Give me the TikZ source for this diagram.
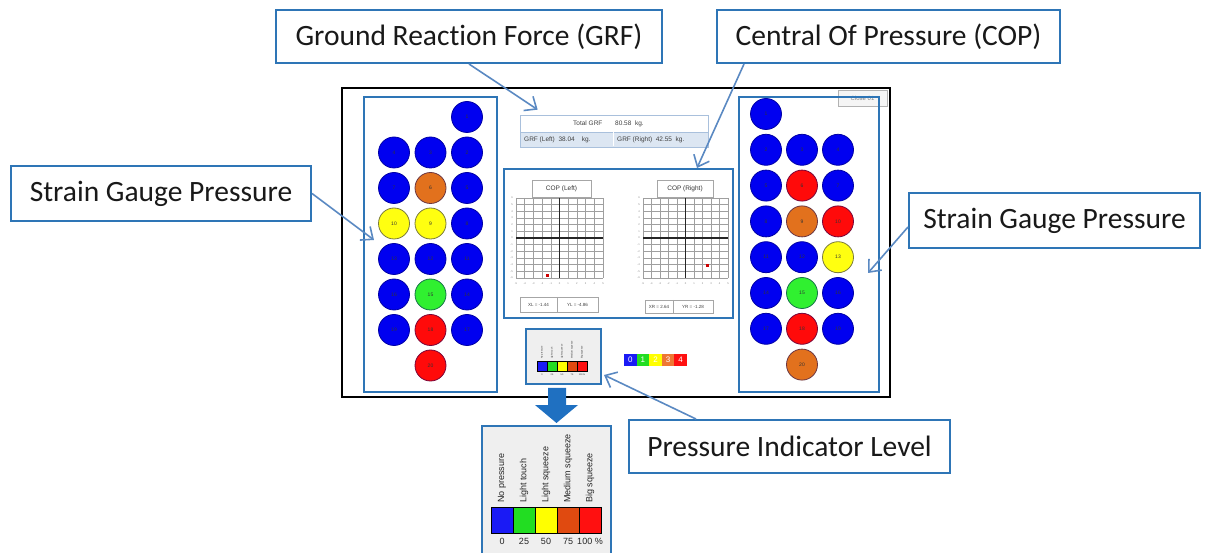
\documentclass[tikz,border=0pt]{standalone}
\usepackage{fontspec}
\setmainfont{Carlito}[Ligatures=NoCommon]
\newfontfamily\arialf{Liberation Sans}
\usetikzlibrary{arrows.meta,calc}
\definecolor{boxblue}{HTML}{2E75B6}
\definecolor{arrblue}{HTML}{5A89C2}
\definecolor{gblue}{HTML}{0000F0}
\definecolor{gorange}{HTML}{E2711D}
\definecolor{gyellow}{HTML}{FFFF10}
\definecolor{ggreen}{HTML}{30F030}
\definecolor{gred}{HTML}{FF0A0A}
\definecolor{tabfill}{HTML}{DCE6F2}
\definecolor{tabline}{HTML}{A9C0DC}
\definecolor{bigarrow}{HTML}{1F70C1}
\definecolor{legbg}{HTML}{EFEFEF}
\definecolor{lblue}{HTML}{1A1AF5}
\definecolor{lgreen}{HTML}{22DD22}
\definecolor{lyellow}{HTML}{FFFF00}
\definecolor{lorange}{HTML}{E04A10}
\definecolor{lred}{HTML}{FF1010}
\definecolor{sorange}{HTML}{EE7733}
\begin{document}
\begin{tikzpicture}[x=1pt,y=-1pt,
  callbox/.style={draw=boxblue, line width=2pt, fill=white, inner sep=0pt,
    font=\fontsize{29.5}{34}\selectfont, text=black!90},
  callarrow/.style={draw=arrblue, line width=1.6pt,
    -{Straight Barb[length=10pt,width=17pt,line width=1.6pt]}},
  panel/.style={draw=boxblue, line width=2pt, inner sep=0pt},
  gauge/.style={circle, minimum size=31pt, inner sep=0pt, draw=#1!60!black!80!blue,
    line width=0.8pt, fill=#1, font=\arialf\fontsize{5}{6}\selectfont, text=black!80},
  gridline/.style={draw=gray!75, line width=0.5pt},
  axisline/.style={draw=black!85, line width=1.2pt},
  tick/.style={font=\arialf\fontsize{2.6}{3}\selectfont, text=gray, inner sep=0pt},
  smalltxt/.style={font=\arialf\fontsize{6.5}{8}\selectfont, text=black!75, inner sep=0pt},
  valtxt/.style={font=\arialf\fontsize{4.5}{5}\selectfont, text=black!75, inner sep=0pt},
  cell/.style={draw=black, line width=0.8pt, minimum width=22pt, minimum height=26pt, inner sep=0pt},
  scell/.style={draw=black, line width=0.4pt, minimum width=10pt, minimum height=10pt, inner sep=0pt},
  legtxt/.style={font=\arialf\fontsize{9}{10}\selectfont, text=black!85, inner sep=0pt},
  slegtxt/.style={font=\arialf\fontsize{2.3}{3}\selectfont, text=black!85, inner sep=0pt},
  ncell/.style={minimum width=12.6pt, minimum height=12pt, inner sep=0pt,
    font=\arialf\fontsize{8}{9}\selectfont, text=white}
]
\useasboundingbox (0,0) rectangle (1208,553);

% ---------- screen ----------
\node[draw=gray!60, fill=gray!8, line width=0.6pt, minimum width=49pt, minimum height=16pt,
  inner sep=0pt, font=\arialf\fontsize{6}{7}\selectfont, text=gray] (closebtn) at (862.5,98) {Close 01};
\node[draw=black, line width=2.5pt, minimum width=548pt, minimum height=309pt, inner sep=0pt] (screen) at (616,242.5) {};

% ---------- side panels ----------
\node[panel, minimum width=133pt, minimum height=295pt] (lpanel) at (430.5,244.5) {};
\node[panel, minimum width=140pt, minimum height=295pt] (rpanel) at (809,244.5) {};

% left foot gauges
\foreach \n/\x/\y/\c in {1/467/117/gblue,
  4/394/152.5/gblue, 3/430.5/152.5/gblue, 2/467/152.5/gblue,
  7/394/188/gblue, 6/430.5/188/gorange, 5/467/188/gblue,
  10/394/223.5/gyellow, 9/430.5/223.5/gyellow, 8/467/223.5/gblue,
  13/394/259/gblue, 12/430.5/259/gblue, 11/467/259/gblue,
  16/394/294.5/gblue, 15/430.5/294.5/ggreen, 14/467/294.5/gblue,
  19/394/330/gblue, 18/430.5/330/gred, 17/467/330/gblue,
  20/430.5/365.5/gred}
  \node[gauge=\c] (L\n) at (\x,\y) {\n};

% right foot gauges
\foreach \n/\x/\y/\c in {1/766/114/gblue,
  2/766/149.8/gblue, 3/802/149.8/gblue, 4/838/149.8/gblue,
  5/766/185.6/gblue, 6/802/185.6/gred, 7/838/185.6/gblue,
  8/766/221.4/gblue, 9/802/221.4/gorange, 10/838/221.4/gred,
  11/766/257.2/gblue, 12/802/257.2/gblue, 13/838/257.2/gyellow,
  14/766/293/gblue, 15/802/293/ggreen, 16/838/293/gblue,
  17/766/328.8/gblue, 18/802/328.8/gred, 19/838/328.8/gblue,
  20/802/364.6/gorange}
  \node[gauge=\c] (R\n) at (\x,\y) {\n};

% ---------- GRF table ----------
\node[draw=tabline, line width=0.7pt, minimum width=188pt, minimum height=32pt, inner sep=0pt] (grftab) at (614,131) {};
\fill[tabfill] (520,132) rectangle (708,147);
\draw[tabline, line width=0.7pt] (520,115) rectangle (708,147);
\draw[tabline, line width=0.7pt] (520,132) -- (708,132);
\draw[white, line width=1pt] (613,132.5) -- (613,146.5);
\node[smalltxt, anchor=west] (totgrf) at (573,123.5) {Total GRF};
\node[smalltxt, anchor=west] (totval) at (615,123.5) {80.58\ \ kg.};
\node[smalltxt, anchor=west] (lgrf) at (524,140) {GRF (Left)\ \ 38.04\ \ \ \ kg.};
\node[smalltxt, anchor=west] (rgrf) at (617,140) {GRF (Right)\ \ 42.55\ \ kg.};

% ---------- COP panel ----------
\node[panel, minimum width=229pt, minimum height=149pt] (copbox) at (618.5,243.5) {};
\node[draw=gray!70, line width=0.6pt, minimum width=59pt, minimum height=17pt, inner sep=0pt,
  font=\arialf\fontsize{6.5}{8}\selectfont, text=black!80] (copl) at (561.5,188.5) {COP (Left)};
\node[draw=gray!70, line width=0.6pt, minimum width=56pt, minimum height=17pt, inner sep=0pt,
  font=\arialf\fontsize{6.5}{8}\selectfont, text=black!80] (copr) at (685,188.5) {COP (Right)};

% left grid
\foreach \i in {0,...,10} {
  \draw[gridline] ({516+8.7*\i},198) -- ({516+8.7*\i},278);
  \pgfmathtruncatemacro{\lab}{\i-5}
  \node[tick] at ({516+8.7*\i},283.5) {\lab};
}
\foreach \j in {0,...,12} {
  \draw[gridline] (516,{198+80/12*\j}) -- (603,{198+80/12*\j});
  \pgfmathtruncatemacro{\lab}{6-\j}
  \node[tick, anchor=east] at (513,{198+80/12*\j}) {\lab};
}
\draw[axisline] (559.5,198) -- (559.5,278);
\draw[axisline] (516,238) -- (603,238);
\fill[red!80!black] (545.5,274.5) rectangle (548.5,277.5);

% right grid
\foreach \i in {0,...,10} {
  \draw[gridline] ({643+8.5*\i},198) -- ({643+8.5*\i},278);
  \pgfmathtruncatemacro{\lab}{\i-5}
  \node[tick] at ({643+8.5*\i},283.5) {\lab};
}
\foreach \j in {0,...,12} {
  \draw[gridline] (643,{198+80/12*\j}) -- (728,{198+80/12*\j});
  \pgfmathtruncatemacro{\lab}{6-\j}
  \node[tick, anchor=east] at (640,{198+80/12*\j}) {\lab};
}
\draw[axisline] (685.5,198) -- (685.5,278);
\draw[axisline] (643,238) -- (728,238);
\fill[red!80!black] (705.5,264.5) rectangle (708.5,267.5);

% value boxes
\draw[gray!70, line width=0.6pt] (520,297) rectangle (598,312) (557,297) -- (557,312);
\node[valtxt] (xl) at (538.5,304.5) {XL = -1.44};
\node[valtxt] (yl) at (577.5,304.5) {YL = -4.86};
\draw[gray!70, line width=0.6pt] (645,300) rectangle (713,313) (673,300) -- (673,313);
\node[valtxt] (xr) at (659,306.5) {XR = 2.64};
\node[valtxt] (yr) at (693,306.5) {YR = -1.28};

% ---------- small legend ----------
\node[panel, fill=legbg, minimum width=75pt, minimum height=55pt] (smallleg) at (563.5,356.5) {};
\foreach \k/\c/\t/\v in {0/lblue/No pressure/0, 1/lgreen/Light touch/25, 2/lyellow/Light squeeze/50,
  3/lorange/Medium squeeze/75, 4/lred/Big squeeze/100\,\%} {
  \node[scell, fill=\c] (sc\k) at ({542+10*\k},366) {};
  \node[slegtxt, rotate=90, anchor=west] at ({542+10*\k},359) {\t};
  \node[slegtxt] at ({542+10*\k},375) {\v};
}

% number strip
\foreach \k/\c in {0/lblue, 1/lgreen, 2/lyellow, 3/sorange, 4/lred}
  \node[ncell, fill=\c] (nc\k) at ({630.3+12.6*\k},360) {\k};

% big down arrow
\fill[bigarrow] (548,388) -- (566,388) -- (566,405) -- (578,405) -- (556.5,423)
  -- (535,405) -- (548,405) -- cycle;

% ---------- big legend ----------
\node[panel, fill=legbg, minimum width=129pt, minimum height=132pt] (bigleg) at (546.5,492) {};
\foreach \k/\c/\t/\v in {0/lblue/No pressure/0, 1/lgreen/Light touch/25, 2/lyellow/Light squeeze/50,
  3/lorange/Medium squeeze/75, 4/lred/Big squeeze/100 \%} {
  \node[cell, fill=\c] (bc\k) at ({502+22*\k},520) {};
  \node[legtxt, rotate=90, anchor=west] at ({502+22*\k},503) {\t};
  \node[legtxt] at ({502+22*\k},541.5) {\v};
}

% ---------- callouts ----------
\node[callbox, minimum width=386pt, minimum height=53pt] (grfc) at (469,36.5) {Ground Reaction Force (GRF)};
\node[callbox, minimum width=343pt, minimum height=53pt] (copc) at (888.5,36.5) {Central Of Pressure (COP)};
\node[callbox, minimum width=300pt, minimum height=55pt] (sgl) at (161,193.5) {Strain Gauge Pressure};
\node[callbox, minimum width=291pt, minimum height=55pt] (sgr) at (1054.5,220.5) {Strain Gauge Pressure};
\node[callbox, minimum width=321pt, minimum height=53pt] (pil) at (789.5,446.5) {Pressure Indicator Level};

\draw[callarrow] (grfc.south) -- ([xshift=18pt,yshift=5pt]grftab.north west);
\draw[callarrow] ([xshift=28pt]copc.south west) -- ([xshift=78.5pt]copbox.north);
\draw[callarrow] (sgl.east) -- ([xshift=11pt,yshift=4.5pt]lpanel.west);
\draw[callarrow] ([yshift=-6.5pt]sgr.west) -- ([xshift=-12pt,yshift=-28.5pt]rpanel.east);
\draw[callarrow] ([xshift=68pt]pil.north west) -- ([xshift=2pt,yshift=-18.5pt]smallleg.east);
\end{tikzpicture}
\end{document}
